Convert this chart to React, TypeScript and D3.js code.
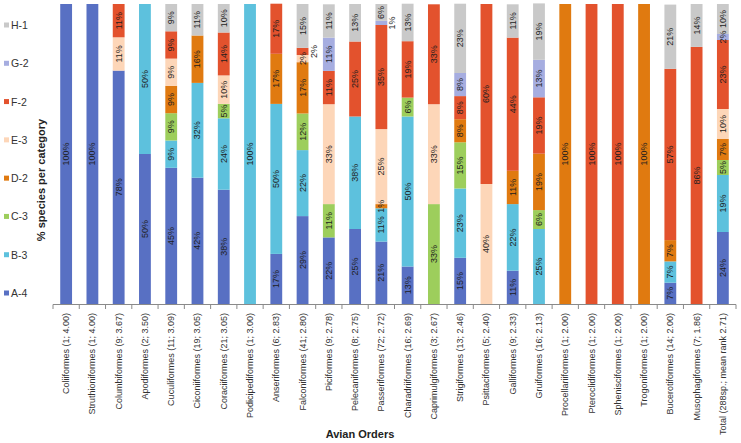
import React from "react";
import * as d3 from "d3";

const categories = [
  "Coliiformes (1; 4.00)",
  "Struthioniformes (1; 4.00)",
  "Columbiformes (9; 3.67)",
  "Apodiformes (2; 3.50)",
  "Cuculiformes (11; 3.09)",
  "Ciconiiformes (19; 3.05)",
  "Coraciiformes (21; 3.05)",
  "Podicipediformes (1; 3.00)",
  "Anseriformes (6; 2.83)",
  "Falconiformes (41; 2.80)",
  "Piciformes (9; 2.78)",
  "Pelecaniformes (8; 2.75)",
  "Passeriformes (72; 2.72)",
  "Charadriiformes (16; 2.69)",
  "Caprimulgiformes (3; 2.67)",
  "Strigiformes (13; 2.46)",
  "Psittaciformes (5; 2.40)",
  "Galliformes (9; 2.33)",
  "Gruiformes (16; 2.13)",
  "Procellariiformes (1; 2.00)",
  "Pteroclidiformes (1; 2.00)",
  "Sphenisciformes (1; 2.00)",
  "Trogoniformes (1; 2.00)",
  "Bucerotiformes (14; 2.00)",
  "Musophagiformes (7; 1.86)",
  "Total (288sp.; mean rank 2.71)",
];

const A4 = [100, 100, 77.8, 50, 45.4, 42.1, 38.1, 0, 16.7, 29.3, 22.2, 25, 20.8, 12.5, 0, 15.4, 0, 11.1, 0, 0, 0, 0, 0, 7.1, 0, 24];
const B3 = [0, 0, 0, 50, 9.1, 31.6, 23.8, 100, 50, 22, 0, 37.5, 11.1, 50, 0, 23.1, 0, 22.2, 25, 0, 0, 0, 0, 7.1, 0, 19];
const C3 = [0, 0, 0, 0, 9.1, 0, 4.8, 0, 0, 12.2, 11.1, 0, 0, 6.3, 33.3, 15.4, 0, 0, 6.3, 0, 0, 0, 0, 0, 0, 5];
const D2 = [0, 0, 0, 0, 9.1, 15.8, 0, 0, 16.7, 17.1, 0, 0, 1.4, 0, 0, 7.7, 0, 11.1, 18.8, 100, 0, 0, 100, 7.1, 0, 7];
const E3 = [0, 0, 11.1, 0, 9.1, 0, 9.5, 0, 0, 2.4, 33.3, 0, 25, 0, 33.3, 0, 40, 0, 0, 0, 0, 0, 0, 0, 0, 10];
const F2 = [0, 0, 11.1, 0, 9.1, 0, 14.3, 0, 16.7, 2.4, 11.1, 25, 34.7, 18.8, 33.3, 7.7, 60, 44.4, 18.8, 0, 100, 100, 0, 57.1, 85.7, 23];
const G2 = [0, 0, 0, 0, 0, 0, 0, 0, 0, 0, 11.1, 0, 1.4, 0, 0, 7.7, 0, 0, 12.5, 0, 0, 0, 0, 0, 0, 2];
const H1 = [0, 0, 0, 0, 9.1, 10.5, 9.5, 0, 0, 14.6, 11.1, 12.5, 5.6, 12.5, 0, 23.1, 0, 11.1, 18.8, 0, 0, 0, 0, 21.4, 14.3, 10];

const seriesKeys = ["A-4", "B-3", "C-3", "D-2", "E-3", "F-2", "G-2", "H-1"];
const seriesValues = [A4, B3, C3, D2, E3, F2, G2, H1];
const seriesColors = ["#5870C3", "#5DC1DD", "#9DCE5C", "#E07A10", "#FDD6B8", "#E3522D", "#A6ADE0", "#C9C9C9"];

// labels drawn beside the bar (tiny segments)
const outsideLabels = [
  { cat: "Falconiformes (41; 2.80)", key: "F-2" },
  { cat: "Passeriformes (72; 2.72)", key: "G-2" },
];

const W = 741;
const H = 443;
const FONT = "'Liberation Sans', Arial, sans-serif";

export default function App() {
  const rows = categories.map((c, i) => {
    const r: any = { cat: c };
    seriesKeys.forEach((k, j) => (r[k] = seriesValues[j][i]));
    return r;
  });
  const stacked = d3.stack<any>().keys(seriesKeys)(rows);

  const x = d3.scaleBand<string>().domain(categories).range([53, 736]).paddingInner(0.55).paddingOuter(0.275);
  const y = d3.scaleLinear().domain([0, 100]).range([304, 4]);
  const color = d3.scaleOrdinal<string, string>().domain(seriesKeys).range(seriesColors);
  const step = x.step();
  const bw = x.bandwidth();
  const x0 = x(categories[0])! - x.paddingOuter() * step;

  const ticks = d3.range(categories.length + 1).map((i) => x0 + i * step);

  const legendY = d3.scalePoint<string>().domain([...seriesKeys].reverse()).range([25, 293]);

  return (
    <svg width={W} height={H} style={{ position: "absolute", left: 0, top: 0, background: "#fff" }} fontFamily={FONT}>
      {stacked.map((s) => (
        <g key={s.key} fill={color(s.key)}>
          {s.map((d, i) =>
            d[1] - d[0] > 0 ? (
              <rect key={i} x={x(categories[i])} width={bw} y={y(d[1])} height={y(d[0]) - y(d[1])} />
            ) : null
          )}
        </g>
      ))}
      {stacked.map((s) =>
        s.map((d, i) => {
          const v = d[1] - d[0];
          if (v <= 0) return null;
          const cx = x(categories[i])! + bw / 2;
          const cy = (y(d[0]) + y(d[1])) / 2;
          const out = outsideLabels.some((o) => o.cat === categories[i] && o.key === s.key);
          const tx = out ? cx + 11 : cx;
          return (
            <text
              key={s.key + i}
              transform={`translate(${tx},${cy}) rotate(-90)`}
              textAnchor="middle"
              dominantBaseline="central"
              fontSize={9}
              fill="#1e1e1e"
            >
              {Math.round(v) + "%"}
            </text>
          );
        })
      )}
      {/* x axis */}
      <line x1={x0} x2={x0 + step * categories.length} y1={304.5} y2={304.5} stroke="#8a8a8a" strokeWidth={1} />
      {ticks.map((t, i) => (
        <line key={i} x1={t} x2={t} y1={304.5} y2={309} stroke="#8a8a8a" strokeWidth={1} />
      ))}
      {categories.map((c) => (
        <text
          key={c}
          transform={`translate(${x(c)! + bw / 2},313) rotate(-90)`}
          textAnchor="end"
          dominantBaseline="central"
          fontSize={9}
          fill="#333"
        >
          {c}
        </text>
      ))}
      {/* legend */}
      {seriesKeys.map((k) => (
        <g key={k} transform={`translate(0,${legendY(k)})`}>
          <rect x={4} y={-2.5} width={5} height={5} fill={color(k)} />
          <text x={11} y={0} dominantBaseline="central" fontSize={10.5} fill="#333">
            {k}
          </text>
        </g>
      ))}
      <text
        transform="translate(41,180) rotate(-90)"
        textAnchor="middle"
        dominantBaseline="central"
        fontSize={11}
        fontWeight="bold"
        fill="#222"
      >
        % species per category
      </text>
      <text x={360} y={434} textAnchor="middle" dominantBaseline="central" fontSize={11} fontWeight="bold" fill="#222">
        Avian Orders
      </text>
    </svg>
  );
}
